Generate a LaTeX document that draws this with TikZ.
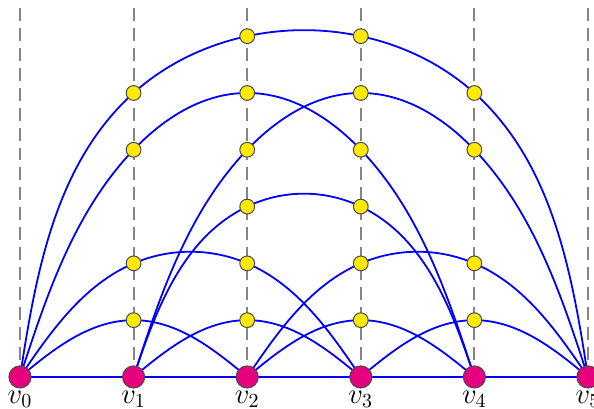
\documentclass[tikz,border=0pt]{standalone}
\usepackage{amsmath}
\usepackage{tikz}
\usetikzlibrary{positioning,backgrounds,hobby}
\definecolor{vtxc}{HTML}{E6007E}
\definecolor{ptc}{HTML}{FFEA00}
\definecolor{rimc}{HTML}{4A4A4A}
\definecolor{edgec}{HTML}{0000FF}
\definecolor{guidec}{HTML}{858585}
\tikzset{
  vtx/.style={circle,draw=rimc,line width=0.5pt,fill=vtxc,minimum size=3.9mm,inner sep=0pt},
  ypt/.style={circle,draw=rimc,line width=0.5pt,fill=ptc,minimum size=2.6mm,inner sep=0pt},
  lbl/.style={font=\Large,inner sep=1pt},
  edge/.style={draw=edgec,line width=0.9pt,use Hobby shortcut},
  guide/.style={draw=guidec,line width=1pt,dash pattern=on 6.5pt off 3.5pt},
}

\begin{document}
\begin{tikzpicture}
  \useasboundingbox (-0.352,-0.563) rectangle (10.106,6.637);
  \foreach \i in {0,...,5}{
    \node[vtx] (v\i) at (2*\i,0) {};
    \node[lbl,below=0pt of v\i] (l\i) {$v_{\i}$};
    \coordinate (t\i) at (2*\i,6.5);
  }
  \foreach \c/\k in {1/1,2/1,3/1,4/1,1/2,2/2,3/2,4/2,2/3,3/3,1/4,2/4,3/4,4/4,1/5,2/5,3/5,4/5,2/6,3/6}
    \node[ypt] (y\c\k) at (2*\c,\k) {};
  \begin{pgfonlayer}{background}
    \foreach \i in {0,...,5} \draw[guide] (t\i) -- (v\i.center);
    \draw[draw=edgec,line width=0.9pt] (v0.center) -- (v1.center) -- (v2.center) -- (v3.center) -- (v4.center) -- (v5.center);
    \draw[edge] ([out curl=0]v0.center) .. (y11.center) .. ([in curl=0]v2.center);
    \draw[edge] ([out curl=0]v1.center) .. (y21.center) .. ([in curl=0]v3.center);
    \draw[edge] ([out curl=0]v2.center) .. (y31.center) .. ([in curl=0]v4.center);
    \draw[edge] ([out curl=0]v3.center) .. (y41.center) .. ([in curl=0]v5.center);
    \draw[edge] ([out curl=0]v0.center) .. (y12.center) .. (y22.center) .. ([in curl=0]v3.center);
    \draw[edge] ([out curl=0]v1.center) .. (y23.center) .. (y33.center) .. ([in curl=0]v4.center);
    \draw[edge] ([out curl=0]v2.center) .. (y32.center) .. (y42.center) .. ([in curl=0]v5.center);
    \draw[edge] ([out curl=0]v0.center) .. (y14.center) .. (y25.center) .. (y34.center) .. ([in curl=0]v4.center);
    \draw[edge] ([out curl=0]v1.center) .. (y24.center) .. (y35.center) .. (y44.center) .. ([in curl=0]v5.center);
    \draw[edge] ([out curl=0]v0.center) .. (y15.center) .. (y26.center) .. (y36.center) .. (y45.center) .. ([in curl=0]v5.center);
  \end{pgfonlayer}
\end{tikzpicture}
\end{document}
